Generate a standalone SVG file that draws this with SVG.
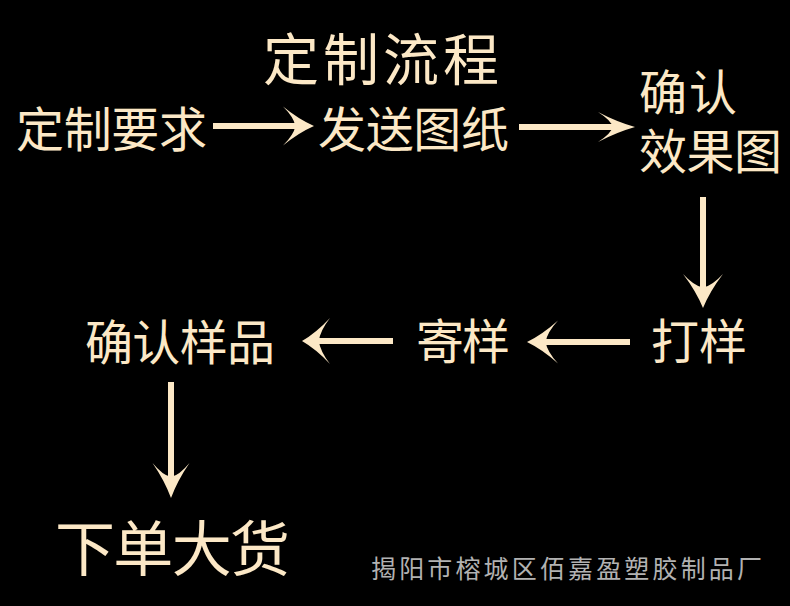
<svg xmlns="http://www.w3.org/2000/svg" xmlns:xlink="http://www.w3.org/1999/xlink" width="790" height="606" viewBox="0 0 790 606">
<style>
.t{font-family:"Noto Sans CJK SC","Noto Sans",sans-serif;fill:#FCE8C6;font-size:48px}
.ln{stroke:#FCE8C6;stroke-width:6;fill:none}
.hd{fill:#FCE8C6}
.ft{font-family:"Noto Sans CJK SC","Noto Sans",sans-serif;fill:#b2b2b2;font-size:25px}
</style>
<defs>
<path id="head" d="M0,0 Q-0.5,-0.35 -1,-1 Q-0.65,-0.45 -0.6,0 Q-0.65,0.45 -1,1 Q-0.5,0.35 0,0Z"/>
</defs>
<rect width="790" height="606" fill="#000"/>
<g id="title"><text class="t" x="263" y="80" style="font-size:56px" textLength="236" lengthAdjust="spacing">定制流程</text></g>
<g id="n1"><text class="t" x="16" y="147" textLength="191" lengthAdjust="spacing">定制要求</text></g>
<g id="n2"><text class="t" x="318" y="147" textLength="191" lengthAdjust="spacing">发送图纸</text></g>
<g id="n3"><text class="t" x="639" y="110" textLength="98" lengthAdjust="spacing">确认</text><text class="t" x="639" y="169" textLength="143" lengthAdjust="spacing">效果图</text></g>
<g id="n4"><text class="t" x="651" y="359" textLength="96" lengthAdjust="spacing">打样</text></g>
<g id="n5"><text class="t" x="416" y="359" textLength="94" lengthAdjust="spacing">寄样</text></g>
<g id="n6"><text class="t" x="85" y="360" textLength="190" lengthAdjust="spacing">确认样品</text></g>
<g id="n7"><text class="t" x="55" y="571" style="font-size:60px" textLength="235" lengthAdjust="spacing">下单大货</text></g>
<g id="footer"><text class="ft" x="371" y="578" textLength="391" lengthAdjust="spacing">揭阳市榕城区佰嘉盈塑胶制品厂</text></g>
<g id="connectors">
<line class="ln" x1="213" y1="126" x2="300" y2="126"/>
<use xlink:href="#head" class="hd" transform="translate(314,126) scale(31,19.5)"/>
<line class="ln" x1="519" y1="127" x2="615" y2="127"/>
<use xlink:href="#head" class="hd" transform="translate(635,127) scale(37,15)"/>
<line class="ln" x1="703" y1="197" x2="703" y2="295"/>
<use xlink:href="#head" class="hd" transform="translate(703,308) rotate(90) scale(34,20)"/>
<line class="ln" x1="630" y1="342" x2="540" y2="342"/>
<use xlink:href="#head" class="hd" transform="translate(527,342) rotate(180) scale(31,21.5)"/>
<line class="ln" x1="393" y1="341" x2="315" y2="341"/>
<use xlink:href="#head" class="hd" transform="translate(302,341) rotate(180) scale(28,23)"/>
<line class="ln" x1="171" y1="382" x2="171" y2="485"/>
<use xlink:href="#head" class="hd" transform="translate(171,498) rotate(90) scale(35,18.5)"/>
</g>
</svg>
